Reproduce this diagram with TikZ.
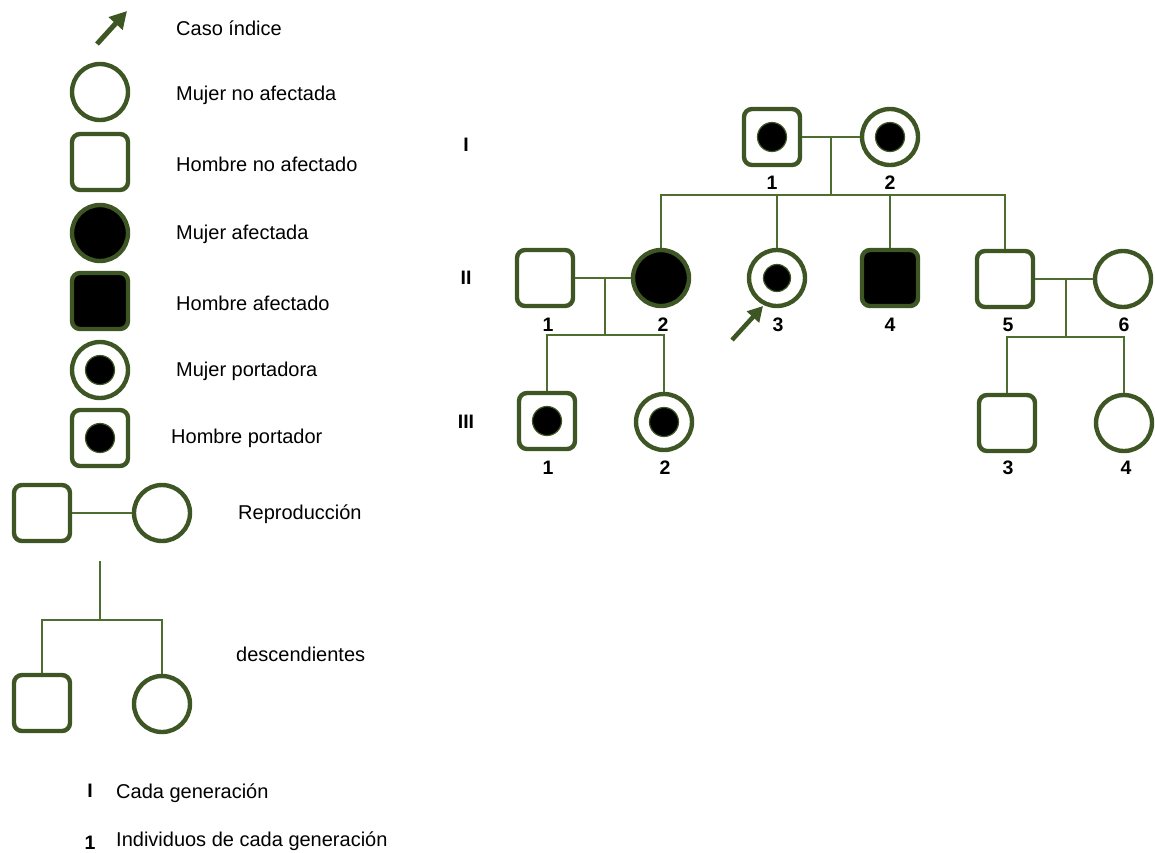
\documentclass[tikz,border=0pt]{standalone}
\usepackage{fontspec}
\setmainfont{Liberation Sans}
\usetikzlibrary{arrows.meta}
\definecolor{olv}{RGB}{61,86,36}
\definecolor{lnk}{RGB}{78,110,48}
\begin{document}
\begin{tikzpicture}[x=1pt,y=-1pt,
 male/.style={draw=olv, line width=4.4pt, rounded corners=8pt, minimum size=56pt, inner sep=0pt, fill=white},
 female/.style={circle, draw=olv, line width=4.4pt, minimum size=56pt, inner sep=0pt, fill=white},
 aff/.style={fill=black},
 dotc/.style={circle, fill=black, draw=olv, line width=1.2pt, minimum size=29pt, inner sep=0pt},
 lbl/.style={anchor=west, font=\fontsize{20}{22}\selectfont, inner sep=0pt},
 num/.style={font=\bfseries\fontsize{19.5}{22}\selectfont, inner sep=0pt},
 conn/.style={draw=lnk, line width=2.8pt},
 idx/.style={draw=olv, line width=5pt, -{Triangle[length=17pt,width=18pt]}},
]
\useasboundingbox (0,0) rectangle (1155,852);

% ---------- legend ----------
\coordinate (a0) at (97,44);
\coordinate (a1) at (127,11);
\draw[idx] (a0) -- (a1);
\node[lbl] (t1) at (176,28) {Caso índice};

\node[female] (Lf) at (100,92) {};
\node[lbl] (t2) at (176,95) {Mujer no afectada};

\node[male] (Lm) at (100,162) {};
\node[lbl] (t3) at (176,164) {Hombre no afectado};

\node[female,aff] (Lfa) at (100,233) {};
\node[lbl] (t4) at (176,234) {Mujer afectada};

\node[male,aff] (Lma) at (100,301) {};
\node[lbl] (t5) at (176,303) {Hombre afectado};

\node[female] (Lfc) at (100,370) {};
\node[dotc] (Lfcd) at (Lfc) {};
\node[lbl] (t6) at (176,371) {Mujer portadora};

\node[male] (Lmc) at (100,438) {};
\node[dotc] (Lmcd) at (Lmc) {};
\node[lbl] (t7) at (171,438) {Hombre portador};

\node[male] (Rm) at (42,513) {};
\node[female] (Rf) at (162,513) {};
\draw[conn] (Rm) -- (Rf);
\node[lbl] (t8) at (238,514) {Reproducción};

\coordinate (Dt) at (100,561);
\coordinate (Dj) at (100,620);
\node[male] (Dm) at (42,703) {};
\node[female] (Df) at (162,704) {};
\draw[conn] (Dt) -- (Dj);
\draw[conn] (Dm.north) |- (Dj) -| (Df.north);
\node[lbl] (t9) at (236,654) {descendientes};

\node[num] (gI) at (90,791) {I};
\node[lbl] (t10) at (116,793) {Cada generación};
\node[num] (g1) at (90,843) {1};
\node[lbl] (t11) at (116,841) {Individuos de cada generación};

% ---------- pedigree ----------
\node[num] (rI) at (466,145) {I};
\node[num] (rII) at (466,278) {II};
\node[num] (rIII) at (466,422) {III};

% generation I
\node[male] (I1) at (772,137) {};
\node[dotc] (I1d) at (I1) {};
\node[female] (I2) at (890,137) {};
\node[dotc] (I2d) at (I2) {};
\draw[conn] (I1) -- (I2);
\coordinate (Im) at (831,137);
\coordinate (Is) at (831,195);
\draw[conn] (Im) -- (Is);
\node[num] (nI1) at (772,183) {1};
\node[num] (nI2) at (890,183) {2};

% generation II
\node[male] (II1) at (545,278) {};
\node[female,aff] (II2) at (661,278) {};
\node[female] (II3) at (777,278) {};
\node[dotc,minimum size=27pt] (II3d) at (II3) {};
\node[male,aff] (II4) at (890,278) {};
\node[male] (II5) at (1005,279) {};
\node[female] (II6) at (1123,279) {};

\draw[conn] (II2.north) |- (Is) -| (II5.north);
\draw[conn] (II3.north) -- (II3.north |- Is);
\draw[conn] (II4.north) -- (II4.north |- Is);

\node[num] (nII1) at (548,325) {1};
\node[num] (nII2) at (663,325) {2};
\node[num] (nII3) at (778,325) {3};
\node[num] (nII4) at (890,325) {4};
\node[num] (nII5) at (1008,325) {5};
\node[num] (nII6) at (1124,325) {6};

\coordinate (ar0) at (732,340);
\coordinate (ar1) at (763,306);
\draw[idx,line width=4.5pt,-{Triangle[length=15pt,width=16pt]}] (ar0) -- (ar1);

% generation III
\node[male] (III1) at (547,421) {};
\node[dotc] (III1d) at (III1) {};
\node[female] (III2) at (664,422) {};
\node[dotc] (III2d) at (III2) {};
\node[male] (III3) at (1007,423) {};
\node[female] (III4) at (1124,423) {};

\draw[conn] (II1) -- (II2);
\coordinate (IIa) at (605,278);
\coordinate (IIb) at (605,335);
\draw[conn] (IIa) -- (IIb);
\draw[conn] (III1.north) |- (IIb) -| (III2.north);

\draw[conn] (II5) -- (II6);
\coordinate (IIc) at (1066,279);
\coordinate (IId) at (1066,337);
\draw[conn] (IIc) -- (IId);
\draw[conn] (III3.north) |- (IId) -| (III4.north);

\node[num] (nIII1) at (548,468) {1};
\node[num] (nIII2) at (665,468) {2};
\node[num] (nIII3) at (1008,468) {3};
\node[num] (nIII4) at (1126,468) {4};
\end{tikzpicture}
\end{document}
